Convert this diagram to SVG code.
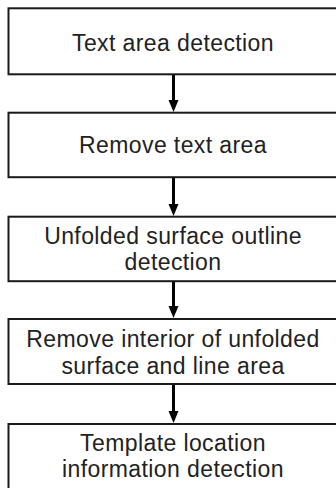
<svg xmlns="http://www.w3.org/2000/svg" width="336" height="488" viewBox="0 0 336 488">
<defs>
<style>
.box{fill:#fff;stroke:#1a1a1a;stroke-width:2}
.t{font-family:"Liberation Sans",Arial,sans-serif;font-size:23px;letter-spacing:0.4px;fill:#222;text-anchor:middle}
.c{stroke:#000;stroke-width:3;fill:none}
.h{fill:#000}
</style>
</defs>
<rect width="336" height="488" fill="#fff"/>
<g id="connectors">
<line class="c" x1="173.5" y1="75" x2="173.5" y2="100"/><path class="h" d="M168.5,100 L178.5,100 L173.5,112 Z"/>
<line class="c" x1="173.5" y1="178" x2="173.5" y2="204"/><path class="h" d="M168.5,204 L178.5,204 L173.5,216 Z"/>
<line class="c" x1="173.5" y1="282" x2="173.5" y2="306"/><path class="h" d="M168.5,306 L178.5,306 L173.5,318 Z"/>
<line class="c" x1="173.5" y1="385" x2="173.5" y2="411"/><path class="h" d="M168.5,411 L178.5,411 L173.5,423 Z"/>
</g>
<g id="n1"><rect class="box" x="8.5" y="8.3" width="340" height="66"/><text class="t" x="173" y="51">Text area detection</text></g>
<g id="n2"><rect class="box" x="8.5" y="112.7" width="340" height="64.5"/><text class="t" x="173" y="153">Remove text area</text></g>
<g id="n3"><rect class="box" x="8.5" y="216.7" width="340" height="64.5"/><text class="t" x="173" y="244">Unfolded surface outline</text><text class="t" x="173" y="270">detection</text></g>
<g id="n4"><rect class="box" x="8.5" y="319" width="340" height="65"/><text class="t" x="173" y="347">Remove interior of unfolded</text><text class="t" x="173" y="374">surface and line area</text></g>
<g id="n5"><rect class="box" x="8.5" y="424" width="340" height="80"/><text class="t" x="173" y="451">Template location</text><text class="t" x="173" y="477">information detection</text></g>
</svg>
